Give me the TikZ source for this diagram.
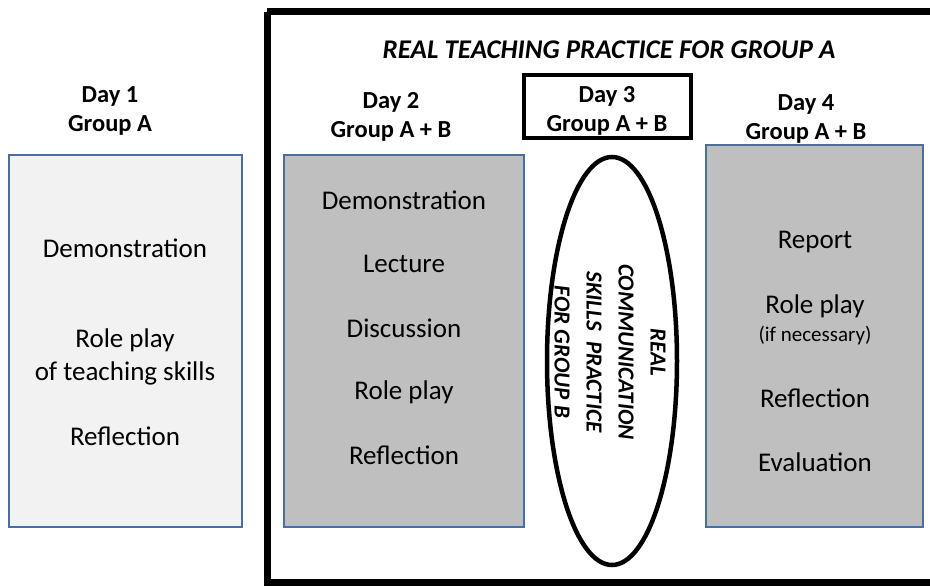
\documentclass[tikz,border=0pt]{standalone}
\usepackage{fontspec}
\setmainfont{Carlito}
\usetikzlibrary{shapes.geometric}
\definecolor{boxedge}{HTML}{4A6E9E}
\definecolor{lightfill}{HTML}{F2F2F2}
\definecolor{darkfill}{HTML}{BFBFBF}
\tikzset{
  daybox/.style={draw=boxedge, line width=1.6pt, rectangle},
  head/.style={font=\fontsize{24.5}{29}\selectfont\bfseries, align=center, inner sep=0pt},
  item/.style={font=\fontsize{27}{33}\selectfont, align=center, inner sep=0pt},
  small/.style={font=\fontsize{21}{26}\selectfont, inner sep=0pt},
}
\begin{document}
\begin{tikzpicture}[x=1pt,y=-1pt]
\useasboundingbox (0,0) rectangle (930,586);
\clip (0,0) rectangle (930,586);

% outer frame: teaching practice for group A
\draw[line width=7pt] (267,12) -- (945,12) (267,12) -- (267,582) -- (945,582);
\node[font=\fontsize{27}{32}\selectfont\bfseries\itshape, inner sep=0pt] (title) at (609,50) {REAL TEACHING PRACTICE FOR GROUP A};

% day boxes
\draw[daybox, fill=lightfill] (9,155) rectangle (242,527);
\draw[daybox, fill=darkfill] (284,155) rectangle (524,527);
\draw[daybox, fill=darkfill] (706,145) rectangle (923,527);
\node[draw, line width=4.5pt, minimum width=167pt, minimum height=63pt, inner sep=0pt] (d3box) at (607.5,106.5) {};

% headers
\node[head] (h1) at (110,111) {Day 1\\Group A};
\node[head] (h2) at (391,117) {Day 2\\Group A + B};
\node[head] (h3) at (607,111) {Day 3\\Group A + B};
\node[head] (h4) at (806,119) {Day 4\\Group A + B};

% day 1
\node[item] (a1) at (125,248) {Demonstration};
\node[item] (a2) at (125,357) {Role play\\of teaching skills};
\node[item] (a3) at (125,436) {Reflection};

% day 2
\node[item] (b1) at (404,200) {Demonstration};
\node[item] (b2) at (404,264) {Lecture};
\node[item] (b3) at (404,328) {Discussion};
\node[item] (b4) at (404,392) {Role play};
\node[item] (b5) at (404,455) {Reflection};

% day 3: communication practice ellipse
\node[draw, ellipse, line width=4.5pt, minimum width=130pt, minimum height=408pt, inner sep=0pt] (ell) at (612,361) {};
\node[font=\fontsize{23}{32}\selectfont\bfseries\itshape, align=center, rotate=-90, inner sep=0pt] (comm) at (610,352) {REAL\\COMMUNICATION\\SKILLS~~PRACTICE\\FOR GROUP B};

% day 4
\node[item] (c1) at (815,242) {Report};
\node[item] (c2) at (815,306) {Role play};
\node[small] (c2b) at (815,336) {(if necessary)};
\node[item] (c3) at (815,398) {Reflection};
\node[item] (c4) at (815,462) {Evaluation};
\end{tikzpicture}
\end{document}
